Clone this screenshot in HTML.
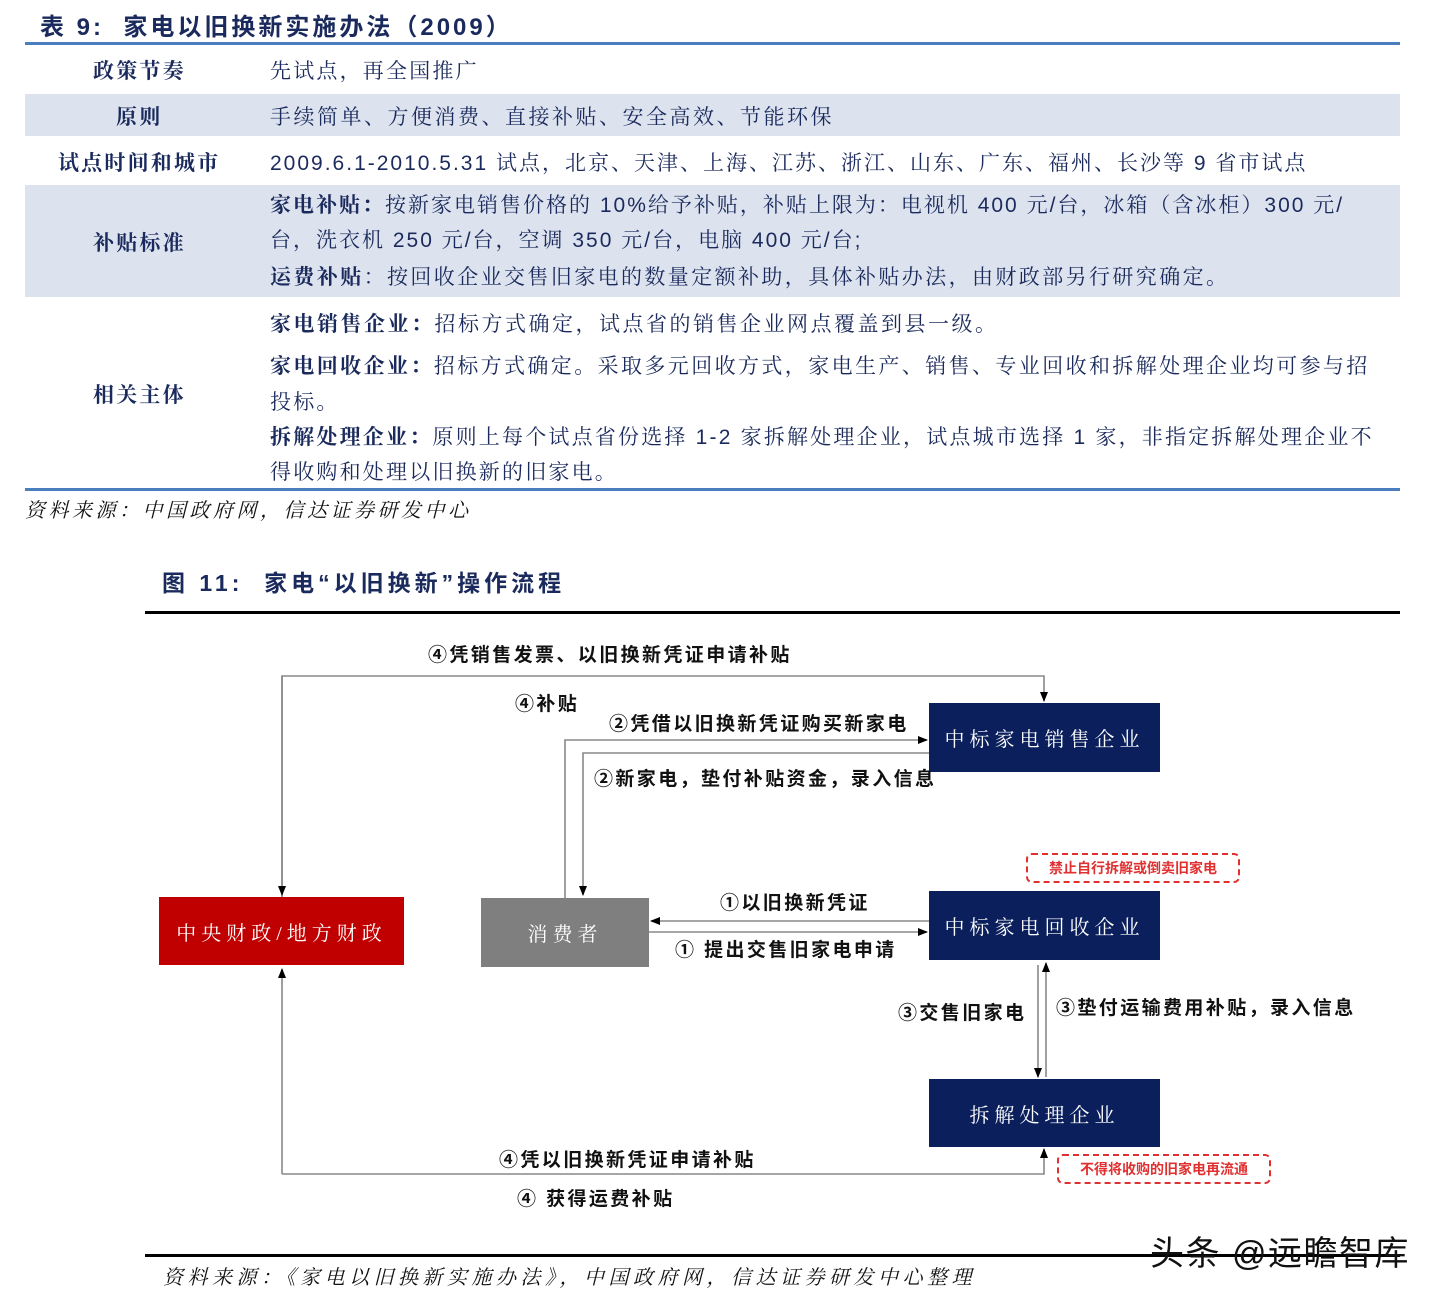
<!DOCTYPE html>
<html><head><meta charset="utf-8"><style>
body{margin:0;width:1446px;height:1299px;background:#fff;position:relative;overflow:hidden;font-family:"Liberation Serif","Noto Serif CJK SC",serif;}
.a{position:absolute;white-space:nowrap;}
.t{color:#1b2a5c;font-size:21px;letter-spacing:2.2px;line-height:24px;font-family:"Liberation Sans","Noto Serif CJK SC",serif;}
.b{font-weight:bold;}
.h{color:#1b2a5c;font-weight:bold;font-size:21px;letter-spacing:2px;font-family:"Liberation Sans","Noto Sans CJK SC",sans-serif;}
.lab{font-family:"Liberation Sans","Noto Sans CJK SC",sans-serif;font-weight:bold;font-size:19px;letter-spacing:2.4px;color:#111;line-height:22px;}
.box{position:absolute;color:#fff;font-size:20px;letter-spacing:5px;display:flex;align-items:center;justify-content:center;font-family:"Liberation Serif","Noto Serif CJK SC",serif;}
.red{position:absolute;border:2px dashed #e03030;border-radius:6px;color:#e03030;font-family:"Liberation Sans","Noto Sans CJK SC",sans-serif;font-weight:bold;font-size:14px;display:flex;align-items:center;justify-content:center;}
.src{font-style:italic;color:#111;font-size:20px;letter-spacing:3.5px;}
</style></head><body>
<div class="a h" style="left:40px;top:7px;font-size:24px;letter-spacing:3px;">表 9:&nbsp; 家电以旧换新实施办法（2009）</div>
<div class="a" style="left:25px;top:42px;width:1375px;height:3px;background:#4a7ebf;"></div>
<div class="a" style="left:25px;top:94px;width:1375px;height:42px;background:#dce3ef;"></div>
<div class="a" style="left:25px;top:185px;width:1375px;height:112px;background:#dce3ef;"></div>
<div class="a" style="left:25px;top:488px;width:1375px;height:3px;background:#4a7ebf;"></div>

<div class="a t b" style="left:93px;top:60px;">政策节奏</div>
<div class="a t b" style="left:116px;top:106px;">原则</div>
<div class="a t b" style="left:58px;top:152px;">试点时间和城市</div>
<div class="a t b" style="left:93px;top:232px;">补贴标准</div>
<div class="a t b" style="left:93px;top:384px;">相关主体</div>

<div class="a t" style="left:270px;top:60px;">先试点，再全国推广</div>
<div class="a t" style="left:270px;top:106px;letter-spacing:2.5px;">手续简单、方便消费、直接补贴、安全高效、节能环保</div>
<div class="a t" style="left:270px;top:152px;letter-spacing:2px;">2009.6.1-2010.5.31 试点，北京、天津、上海、江苏、浙江、山东、广东、福州、长沙等 9 省市试点</div>
<div class="a t" style="left:270px;top:194px;letter-spacing:2px;"><b>家电补贴：</b>按新家电销售价格的 10%给予补贴，补贴上限为：电视机 400 元/台，冰箱（含冰柜）300 元/</div>
<div class="a t" style="left:270px;top:229px;letter-spacing:2px;">台，洗衣机 250 元/台，空调 350 元/台，电脑 400 元/台;</div>
<div class="a t" style="left:270px;top:266px;letter-spacing:2.4px;"><b>运费补贴</b>：按回收企业交售旧家电的数量定额补助，具体补贴办法，由财政部另行研究确定。</div>
<div class="a t" style="left:270px;top:313px;letter-spacing:2.5px;"><b>家电销售企业：</b>招标方式确定，试点省的销售企业网点覆盖到县一级。</div>
<div class="a t" style="left:270px;top:355px;letter-spacing:2.4px;"><b>家电回收企业：</b>招标方式确定。采取多元回收方式，家电生产、销售、专业回收和拆解处理企业均可参与招</div>
<div class="a t" style="left:270px;top:391px;">投标。</div>
<div class="a t" style="left:270px;top:426px;letter-spacing:2.2px;"><b>拆解处理企业：</b>原则上每个试点省份选择 1-2 家拆解处理企业，试点城市选择 1 家，非指定拆解处理企业不</div>
<div class="a t" style="left:270px;top:461px;">得收购和处理以旧换新的旧家电。</div>
<div class="a src" style="left:25px;top:494px;">资料来源：中国政府网，信达证券研发中心</div>

<div class="a h" style="left:162px;top:564px;font-size:23px;letter-spacing:4px;">图 11:&nbsp; 家电“以旧换新”操作流程</div>
<div class="a" style="left:145px;top:611px;width:1255px;height:3px;background:#000;"></div>

<svg class="a" style="left:0;top:0;" width="1446" height="1299">
<defs><marker id="ar" markerWidth="10" markerHeight="10" refX="9" refY="5" orient="auto" markerUnits="userSpaceOnUse"><path d="M0,1 L10,5 L0,9 z" fill="#000"/></marker></defs>
<g stroke="#888" stroke-width="1.6" fill="none">
<polyline points="282,897 282,676 1044,676 1044,701" marker-end="url(#ar)"/>
<line x1="282" y1="676" x2="282" y2="895" marker-end="url(#ar)"/>
<polyline points="282,1174 1044,1174 1044,1149" marker-end="url(#ar)"/>
<line x1="282" y1="1174" x2="282" y2="969" marker-end="url(#ar)"/>
<polyline points="565,898 565,740 927,740" marker-end="url(#ar)"/>
<polyline points="929,753 583,753 583,895" marker-end="url(#ar)"/>
<line x1="929" y1="921" x2="651" y2="921" marker-end="url(#ar)"/>
<line x1="649" y1="932" x2="927" y2="932" marker-end="url(#ar)"/>
<line x1="1038" y1="965" x2="1038" y2="1077" marker-end="url(#ar)"/>
<line x1="1046" y1="1077" x2="1046" y2="963" marker-end="url(#ar)"/>
</g>
</svg>

<div class="box" style="left:159px;top:897px;width:245px;height:68px;background:#c00000;">中央财政/地方财政</div>
<div class="box" style="left:481px;top:898px;width:168px;height:69px;background:#7f7f7f;">消费者</div>
<div class="box" style="left:929px;top:703px;width:231px;height:69px;background:#0a1f5c;">中标家电销售企业</div>
<div class="box" style="left:929px;top:891px;width:231px;height:69px;background:#0a1f5c;">中标家电回收企业</div>
<div class="box" style="left:929px;top:1079px;width:231px;height:68px;background:#0a1f5c;">拆解处理企业</div>
<div class="red" style="left:1026px;top:853px;width:210px;height:26px;">禁止自行拆解或倒卖旧家电</div>
<div class="red" style="left:1057px;top:1154px;width:210px;height:26px;">不得将收购的旧家电再流通</div>

<div class="a lab" style="left:428px;top:645px;">④凭销售发票、以旧换新凭证申请补贴</div>
<div class="a lab" style="left:515px;top:694px;">④补贴</div>
<div class="a lab" style="left:609px;top:714px;">②凭借以旧换新凭证购买新家电</div>
<div class="a lab" style="left:594px;top:769px;">②新家电，垫付补贴资金，录入信息</div>
<div class="a lab" style="left:720px;top:893px;">①以旧换新凭证</div>
<div class="a lab" style="left:675px;top:940px;">① 提出交售旧家电申请</div>
<div class="a lab" style="left:898px;top:1003px;">③交售旧家电</div>
<div class="a lab" style="left:1056px;top:998px;">③垫付运输费用补贴，录入信息</div>
<div class="a lab" style="left:499px;top:1150px;">④凭以旧换新凭证申请补贴</div>
<div class="a lab" style="left:517px;top:1189px;">④ 获得运费补贴</div>

<div class="a" style="left:145px;top:1254px;width:1255px;height:3px;background:#000;"></div>
<div class="a src" style="left:163px;top:1261px;letter-spacing:4.5px;">资料来源：《家电以旧换新实施办法》，中国政府网，信达证券研发中心整理</div>
<div class="a" style="left:1150px;top:1226px;font-family:'Liberation Sans','Noto Sans CJK SC',sans-serif;font-size:34px;letter-spacing:1.5px;color:#111;">头条 @远瞻智库</div>
</body></html>
